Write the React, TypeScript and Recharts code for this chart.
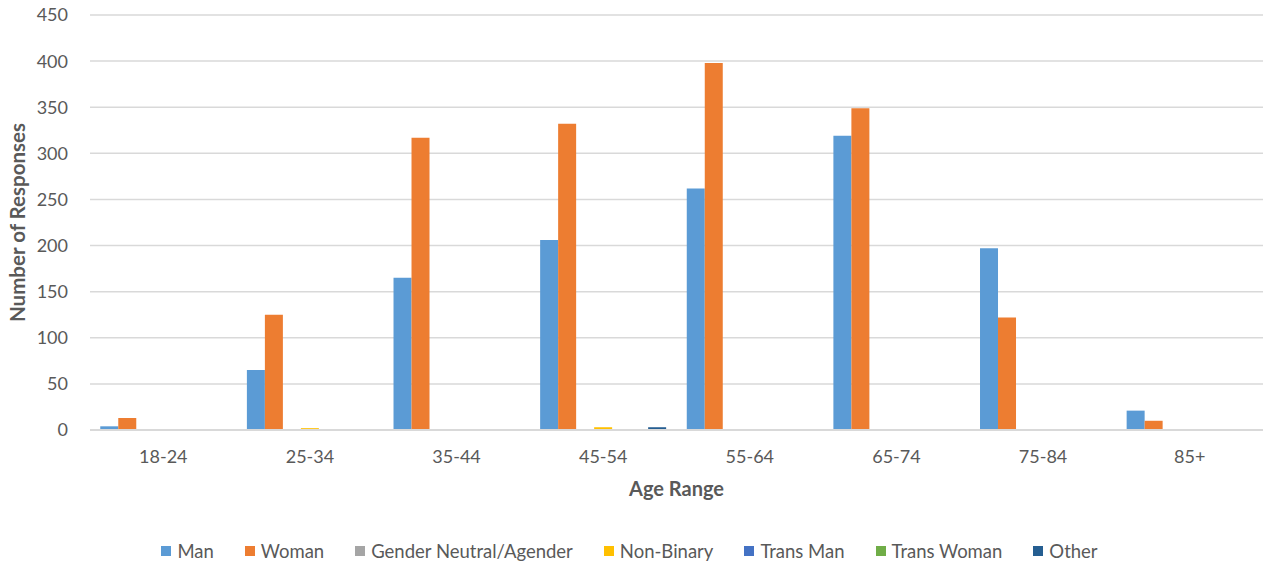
import { BarChart, Bar, XAxis, YAxis, CartesianGrid, Legend } from "recharts";

const AGE_RANGES = ["18-24", "25-34", "35-44", "45-54", "55-64", "65-74", "75-84", "85+"];

const MAN = [4, 65, 165, 206, 262, 319, 197, 21];
const WOMAN = [13, 125, 317, 332, 398, 349, 122, 10];
const GENDER_NEUTRAL = [0, 1, 1, 0, 0, 0, 0, 0];
const NON_BINARY = [0, 2, 0, 3, 0, 0, 0, 0];
const TRANS_MAN = [0, 0, 0, 0, 0, 0, 0, 0];
const TRANS_WOMAN = [0, 0, 0, 0, 0, 0, 0, 0];
const OTHER = [0, 0, 0, 3, 0, 0, 0, 0];

const Y_TICKS = [0, 50, 100, 150, 200, 250, 300, 350, 400, 450];

const SERIES = [
  { key: "Man", values: MAN, color: "#5B9BD5" },
  { key: "Woman", values: WOMAN, color: "#ED7D31" },
  { key: "Gender Neutral/Agender", values: GENDER_NEUTRAL, color: "#A5A5A5" },
  { key: "Non-Binary", values: NON_BINARY, color: "#FFC000" },
  { key: "Trans Man", values: TRANS_MAN, color: "#4472C4" },
  { key: "Trans Woman", values: TRANS_WOMAN, color: "#70AD47" },
  { key: "Other", values: OTHER, color: "#255E91" },
];

const data = AGE_RANGES.map((age, i) => {
  const row: Record<string, string | number> = { age };
  SERIES.forEach((s) => {
    row[s.key] = s.values[i];
  });
  return row;
});

const FONT = "Lato, 'Liberation Sans', sans-serif";
const TEXT = "#595959";

// legend drawn in series order (recharts would sort it by name)
function SeriesLegend() {
  return (
    <div
      style={{
        display: "flex",
        justifyContent: "center",
        gap: 31,
        height: 30,
        alignItems: "center",
        fontSize: 18.5,
        fontFamily: FONT,
        color: TEXT,
        paddingRight: 4,
      }}
    >
      {SERIES.map((s) => (
        <div key={s.key} style={{ display: "flex", alignItems: "center" }}>
          <span style={{ width: 10, height: 10, background: s.color, marginRight: 6 }} />
          {s.key}
        </div>
      ))}
    </div>
  );
}

export default function App() {
  return (
    <div style={{ position: "absolute", left: 0, top: 0, fontFamily: FONT }}>
      <BarChart
        width={1267}
        height={566}
        data={data}
        margin={{ top: 15, right: 4, left: 0, bottom: 0 }}
        barCategoryGap="7%"
        barGap={0}
      >
        <CartesianGrid vertical={false} stroke="#D9D9D9" strokeWidth={1.5} />
        <XAxis
          dataKey="age"
          height={106}
          tickLine={false}
          axisLine={{ stroke: "#D9D9D9", strokeWidth: 2 }}
          tick={{ fill: TEXT, fontSize: 18, fontFamily: FONT }}
          tickMargin={14}
          label={{
            value: "Age Range",
            position: "insideBottom",
            offset: 40,
            fill: TEXT,
            fontSize: 20,
            fontWeight: "bold",
            fontFamily: FONT,
          }}
        />
        <YAxis
          width={90}
          domain={[0, 450]}
          ticks={Y_TICKS}
          interval={0}
          tickLine={false}
          axisLine={false}
          tick={{ fill: TEXT, fontSize: 18, fontFamily: FONT }}
          tickMargin={16}
          label={{
            value: "Number of Responses",
            angle: -90,
            position: "insideLeft",
            offset: 18,
            style: { textAnchor: "middle" },
            fill: TEXT,
            fontSize: 20.5,
            fontWeight: "bold",
            fontFamily: FONT,
          }}
        />
        <Legend verticalAlign="bottom" content={() => <SeriesLegend />} />
        {SERIES.map((s) => (
          <Bar key={s.key} dataKey={s.key} fill={s.color} isAnimationActive={false} />
        ))}
      </BarChart>
    </div>
  );
}
